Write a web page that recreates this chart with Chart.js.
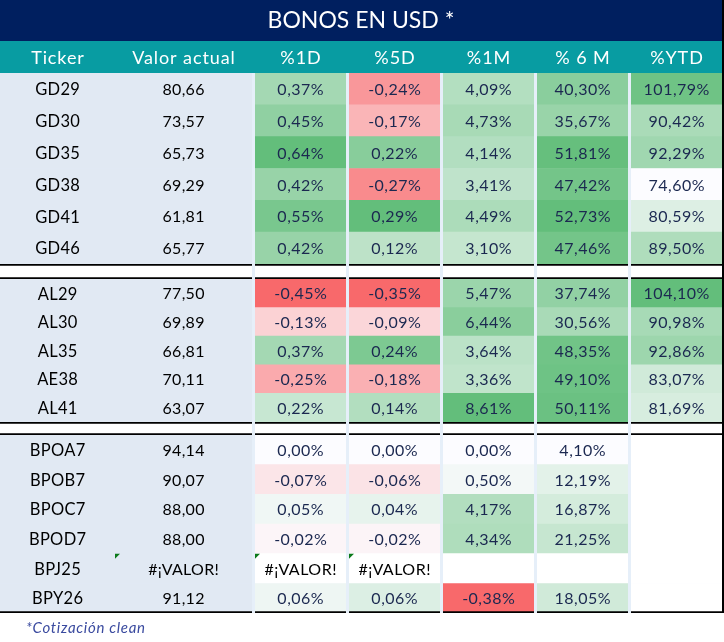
<!DOCTYPE html>
<html lang="es">
<head>
<meta charset="utf-8">
<title>Bonos en USD</title>
<script src="https://cdn.jsdelivr.net/npm/chart.js@4.4.1/dist/chart.umd.min.js"></script>
<style>
  html, body { margin: 0; padding: 0; background: #ffffff; }
  #wrap { position: relative; width: 724px; height: 642px; }
  #note { position: absolute; left: 26px; top: 618px; font: italic 15px Lato, sans-serif; letter-spacing: 0.7px; color: #3a4a9f; }
</style>
</head>
<body>
<div id="wrap">
  <canvas id="canvas" width="724" height="642"></canvas>
  <div id="note">*Cotización clean</div>
</div>
<script>
const ERR = '#¡VALOR!';

const headers = ['Ticker', 'Valor actual', '%1D', '%5D', '%1M', '% 6 M', '%YTD'];

const gdTickers = ['GD29', 'GD30', 'GD35', 'GD38', 'GD41', 'GD46'];
const gdValor = [80.66, 73.57, 65.73, 69.29, 61.81, 65.77];
const gd1D = [0.37, 0.45, 0.64, 0.42, 0.55, 0.42];
const gd5D = [-0.24, -0.17, 0.22, -0.27, 0.29, 0.12];
const gd1M = [4.09, 4.73, 4.14, 3.41, 4.49, 3.10];
const gd6M = [40.30, 35.67, 51.81, 47.42, 52.73, 47.46];
const gdYTD = [101.79, 90.42, 92.29, 74.60, 80.59, 89.50];

const alTickers = ['AL29', 'AL30', 'AL35', 'AE38', 'AL41'];
const alValor = [77.50, 69.89, 66.81, 70.11, 63.07];
const al1D = [-0.45, -0.13, 0.37, -0.25, 0.22];
const al5D = [-0.35, -0.09, 0.24, -0.18, 0.14];
const al1M = [5.47, 6.44, 3.64, 3.36, 8.61];
const al6M = [37.74, 30.56, 48.35, 49.10, 50.11];
const alYTD = [104.10, 90.98, 92.86, 83.07, 81.69];

const bpTickers = ['BPOA7', 'BPOB7', 'BPOC7', 'BPOD7', 'BPJ25', 'BPY26'];
const bpValor = [94.14, 90.07, 88.00, 88.00, ERR, 91.12];
const bp1D = [0.00, -0.07, 0.05, -0.02, ERR, 0.06];
const bp5D = [0.00, -0.06, 0.04, -0.02, ERR, 0.06];
const bp1M = [0.00, 0.50, 4.17, 4.34, null, -0.38];
const bp6M = [4.10, 12.19, 16.87, 21.25, null, 18.05];
const bpYTD = [null, null, null, null, null, null];

const NAVY = '#001f5f', TEAL = '#089ca2', BLOCK = '#e1e9f3', GAP = '#e6eff9', INK = '#1b2850';
const RED = [248, 105, 107], MID = [252, 252, 255], GREEN = [99, 190, 123];

// layout (px): column widths and row band heights
const colAxes = ['xTicker', 'xValor', 'x1D', 'x5D', 'x1M', 'x6M', 'xYTD'];
const colWidth = { xTicker: 115, xValor: 137, x1D: 91, x5D: 91, x1M: 91, x6M: 91, xYTD: 91 };
const gapWidth = 3;
const bands = [
  { id: 'yHead', h: 32, labels: ['header'] },
  { id: 'yGD', h: 191, labels: gdTickers },
  { id: 'ySep1', h: 15, labels: [''] },
  { id: 'yAL', h: 143, labels: alTickers },
  { id: 'ySep2', h: 13, labels: [''] },
  { id: 'yBP', h: 178, labels: bpTickers }
];

const groups = [
  { axis: 'yGD', tickers: gdTickers, cols: [gdValor, gd1D, gd5D, gd1M, gd6M, gdYTD] },
  { axis: 'yAL', tickers: alTickers, cols: [alValor, al1D, al5D, al1M, al6M, alYTD] },
  { axis: 'yBP', tickers: bpTickers, cols: [bpValor, bp1D, bp5D, bp1M, bp6M, bpYTD], last: true }
];

// colour scale per column: diverging around 0 for short periods, min->max for 6M / YTD
const scaleKind = [null, 'div', 'div', 'div', 'seq', 'seq'];
const ranges = scaleKind.map((k, c) => {
  const vals = groups.flatMap(g => g.cols[c]).filter(v => typeof v === 'number');
  return { min: Math.min(...vals), max: Math.max(...vals) };
});

function mix(a, b, t) {
  return 'rgb(' + a.map((v, k) => Math.round(v + (b[k] - v) * t)).join(',') + ')';
}

function heat(v, c) {
  if (typeof v !== 'number') return '#ffffff';
  const r = ranges[c];
  if (scaleKind[c] === 'div') {
    if (v >= 0) return mix(MID, GREEN, v / r.max);
    return mix(MID, RED, v / r.min);
  }
  return mix(MID, GREEN, (v - r.min) / (r.max - r.min));
}

function fmt(v, pct) {
  if (typeof v !== 'number') return v;
  return v.toFixed(2).replace('.', ',') + (pct ? '%' : '');
}

let datasets = [];
datasets.push({ xAxisID: 'xFull', yAxisID: 'yHead', data: [[0, 1]], backgroundColor: TEAL });
groups.forEach(g => {
  let edge = 0;
  if (g.last) edge = ctx => ctx.dataIndex === g.tickers.length - 1 ? { bottom: 2 } : 0;
  datasets.push({
    xAxisID: 'xTicker', yAxisID: g.axis, data: g.tickers.map(() => [0, 1]),
    backgroundColor: BLOCK, borderColor: '#000', borderWidth: edge,
    texts: g.tickers, textColor: '#000', textSize: 16.5, spacing: 0.3
  });
  g.cols.forEach((vals, c) => {
    datasets.push({
      xAxisID: colAxes[c + 1], yAxisID: g.axis, data: vals.map(() => [0, 1]),
      backgroundColor: c === 0 ? BLOCK : vals.map(v => heat(v, c)),
      borderColor: '#000', borderWidth: edge,
      texts: vals.map(v => fmt(v, c > 0)),
      textColor: c === 0 ? '#000' : INK, textSize: 16, spacing: c === 0 ? 0.3 : 0.5
    });
  });
});
['ySep1', 'ySep2'].forEach(id => {
  colAxes.forEach(ax => {
    datasets.push({
      xAxisID: ax, yAxisID: id, data: [[0, 1]],
      backgroundColor: '#ffffff', borderColor: '#000', borderWidth: { top: 2, bottom: 2 }
    });
  });
});

let scales = { xFull: { type: 'linear', axis: 'x', position: 'bottom', min: 0, max: 1, display: false } };
let order = 0;
colAxes.forEach((id, i) => {
  if (i >= 2) {
    scales['xGap' + i] = { type: 'linear', axis: 'x', position: 'bottom', stack: 'cols', stackWeight: gapWidth, weight: order++, min: 0, max: 1, display: false };
  }
  scales[id] = { type: 'linear', axis: 'x', position: 'bottom', stack: 'cols', stackWeight: colWidth[id], weight: order++, min: 0, max: 1, display: false };
});
bands.forEach((b, i) => {
  scales[b.id] = { type: 'category', axis: 'y', position: 'left', stack: 'rows', stackWeight: b.h, weight: bands.length - i, labels: b.labels, offset: true, display: false };
});

const frame = {
  id: 'frame',
  beforeDraw(chart) {
    const ctx = chart.ctx, a = chart.chartArea, t = chart.titleBlock;
    ctx.save();
    ctx.fillStyle = GAP;
    ctx.fillRect(a.left, a.top, a.right - a.left, a.bottom - a.top);
    ctx.fillStyle = NAVY;
    ctx.fillRect(t.left, t.top, t.width, t.height);
    ctx.fillStyle = '#000';
    ctx.fillRect(a.right, 0, chart.width - a.right, a.bottom);
    ctx.restore();
  }
};

function spaced(ctx, txt, x, y, sp) {
  ctx.letterSpacing = sp + 'px';
  ctx.fillText(txt, x + sp / 2, y);
}

const cellText = {
  id: 'cellText',
  afterDatasetsDraw(chart) {
    const ctx = chart.ctx;
    ctx.save();
    ctx.textAlign = 'center';
    ctx.textBaseline = 'middle';
    chart.data.datasets.forEach((ds, di) => {
      if (!ds.texts) return;
      chart.getDatasetMeta(di).data.forEach((bar, i) => {
        const txt = ds.texts[i];
        if (txt == null) return;
        const p = bar.getProps(['x', 'y', 'base', 'height'], true);
        const left = Math.min(p.x, p.base);
        ctx.font = ds.textSize + 'px Lato, sans-serif';
        ctx.fillStyle = txt === ERR ? '#000' : ds.textColor;
        spaced(ctx, txt, (p.x + p.base) / 2, p.y + 1, ds.spacing);
        if (txt === ERR) {
          const top = p.y - p.height / 2;
          ctx.fillStyle = '#0b7a1a';
          ctx.beginPath();
          ctx.moveTo(left, top);
          ctx.lineTo(left + 5, top);
          ctx.lineTo(left, top + 5);
          ctx.closePath();
          ctx.fill();
        }
      });
    });
    const yHead = chart.scales.yHead.getPixelForValue(0);
    ctx.fillStyle = '#ffffff';
    ctx.font = '18px Lato, sans-serif';
    headers.forEach((h, i) => {
      spaced(ctx, h, chart.scales[colAxes[i]].getPixelForValue(0.5), yHead + 1, 0.9);
    });
    ctx.restore();
  }
};

new Chart(document.getElementById('canvas'), {
  type: 'bar',
  data: { datasets: datasets },
  options: {
    indexAxis: 'y',
    responsive: false,
    animation: false,
    events: [],
    layout: { padding: { left: 0, right: 2, top: 0, bottom: 29 } },
    datasets: {
      bar: { grouped: false, categoryPercentage: 1, barPercentage: 1, borderSkipped: false }
    },
    scales: scales,
    plugins: {
      legend: { display: false },
      tooltip: { enabled: false },
      title: {
        display: true,
        text: 'BONOS EN USD *',
        color: '#ffffff',
        font: { family: 'Lato', size: 23, weight: 'normal' },
        padding: { top: 6.5, bottom: 6.9 }
      }
    }
  },
  plugins: [frame, cellText]
});
</script>
</body>
</html>
